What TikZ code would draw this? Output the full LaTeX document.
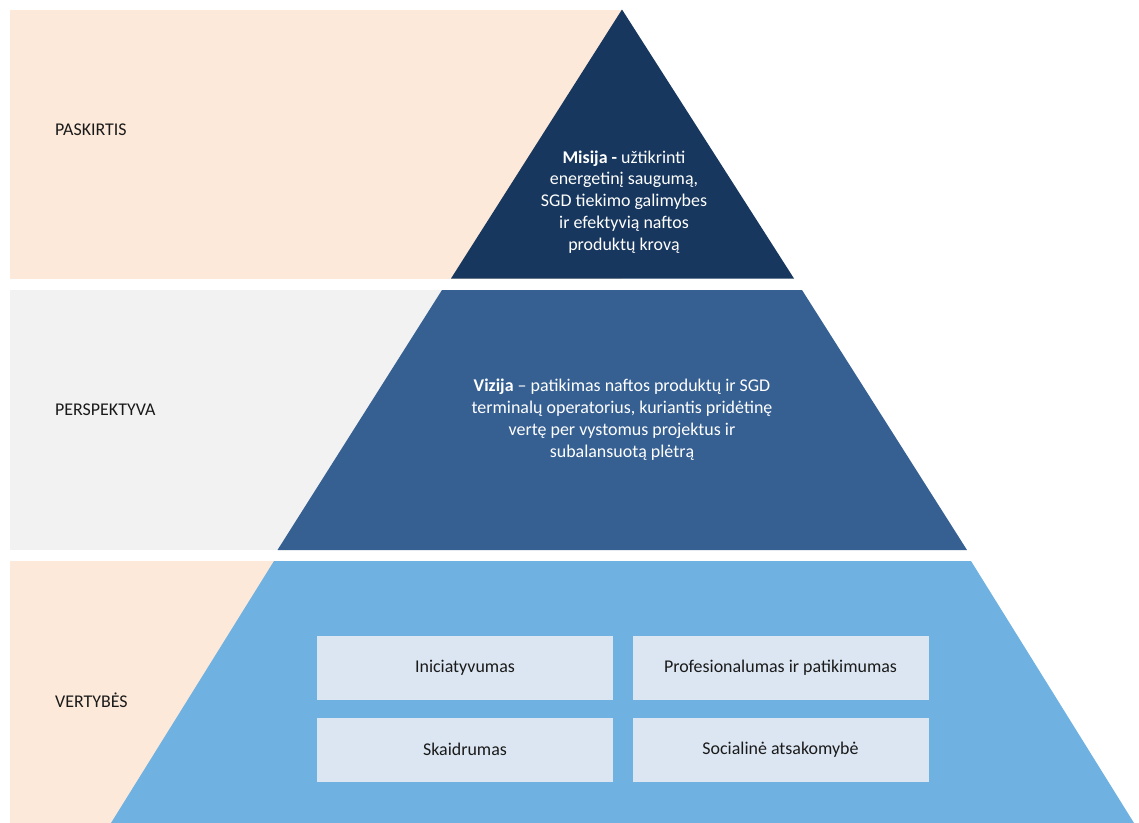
\documentclass[tikz,border=0pt]{standalone}
\usepackage{fontspec}
\setmainfont{Carlito}
\definecolor{peach}{HTML}{FDE9D9}
\definecolor{lgray}{HTML}{F2F2F2}
\definecolor{navy}{HTML}{17375E}
\definecolor{midblue}{HTML}{366092}
\definecolor{skyblue}{HTML}{6FB1E0}
\definecolor{boxblue}{HTML}{DCE6F2}
\definecolor{ink}{HTML}{1A1A1A}
\tikzset{
  lbl/.style={anchor=west, text=ink, font=\fontsize{18}{22}\selectfont, inner sep=0pt},
  ptext/.style={align=center, text=white, font=\fontsize{18}{22}\selectfont, inner sep=0pt},
  valbox/.style={fill=boxblue, draw=none, minimum width=296bp, minimum height=64bp, inner sep=0pt,
    text=ink, font=\fontsize{18}{22}\selectfont},
}
\begin{document}
\begin{tikzpicture}[x=1bp,y=-1bp]
\useasboundingbox (0,0) rectangle (1139,823);
% background bands
\fill[peach] (10,9.5) rectangle (622,278.5);
\fill[lgray] (10,290) rectangle (442,550);
\fill[peach] (10,561) rectangle (274,823);
% pyramid
\fill[navy] (622,9.5) -- (794,278.5) -- (451,278.5) -- cycle;
\fill[midblue] (442,290) -- (802,290) -- (967,550) -- (277.5,550) -- cycle;
\fill[skyblue] (274,561) -- (971,561) -- (1134,823) -- (111,823) -- cycle;
% left labels
\node[lbl] (paskirtis) at (55,130) {PASKIRTIS};
\node[lbl] (perspektyva) at (55,410) {PERSPEKTYVA};
\node[lbl] (vertybes) at (55,700) {VERTYBĖS};
% pyramid texts
\node[ptext] (misija) at (624,202) {\textbf{Misija -} užtikrinti\\ energetinį saugumą,\\ SGD tiekimo galimybes\\ ir efektyvią naftos\\ produktų krovą};
\node[ptext] (vizija) at (622,420) {\textbf{Vizija} – patikimas naftos produktų ir SGD\\ terminalų operatorius, kuriantis pridėtinę\\ vertę per vystomus projektus ir\\ subalansuotą plėtrą};
% value boxes
\node[valbox] (v1) at (465,668) {Iniciatyvumas};
\node[valbox] (v2) at (780.5,668) {Profesionalumas ir patikimumas};
\node[valbox] (v3) at (465,749.5) {Skaidrumas};
\node[valbox] (v4) at (780.5,749.5) {Socialinė atsakomybė};
\end{tikzpicture}
\end{document}
